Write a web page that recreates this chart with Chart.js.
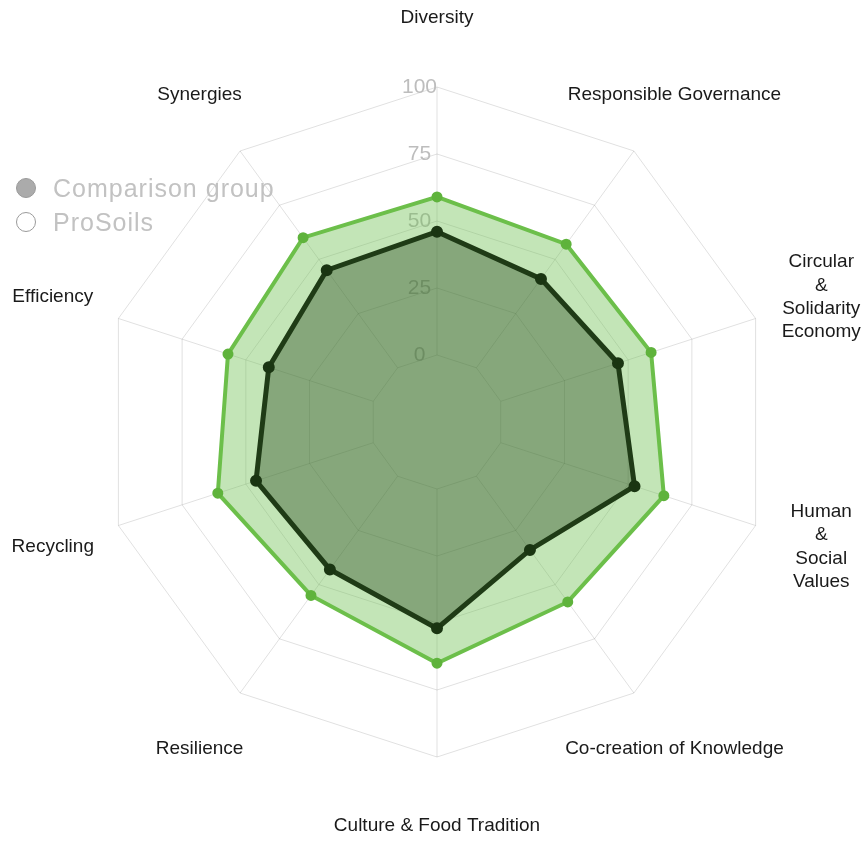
<!DOCTYPE html>
<html>
<head>
<meta charset="utf-8">
<script src="https://cdn.jsdelivr.net/npm/chart.js@4.4.1/dist/chart.umd.min.js"></script>
<style>
  body { margin: 0; background: #fff; }
  #wrap { position: relative; width: 863px; height: 842px; }
  #legend { position: absolute; left: 16px; top: 171px; font-family: "Liberation Sans", Arial, sans-serif;
            font-size: 25px; color: #c2c2c2; letter-spacing: 1px; line-height: 34px; }
  #legend div { display: flex; align-items: center; }
  #legend span.dot { display: inline-block; width: 20px; height: 20px; border-radius: 50%;
                     margin-right: 17px; box-sizing: border-box; }
</style>
</head>
<body>
<div id="wrap">
  <canvas id="radar" width="863" height="842"></canvas>
  <div id="legend"></div>
</div>
<script>
// axis names (arrays = multi-line labels)
const categories = [
  'Diversity',
  'Responsible Governance',
  ['Circular', '&', 'Solidarity', 'Economy'],
  ['Human', '&', 'Social', 'Values'],
  'Co-creation of Knowledge',
  'Culture & Food Tradition',
  'Resilience',
  'Recycling',
  'Efficiency',
  'Synergies'
];

const comparisonValues = [46, 41, 46, 52.5, 34, 52, 43, 46, 41, 45];
const proSoilsValues = [59, 57, 59, 64, 58, 65, 55, 61, 57, 60];

const scaleMin = -25;
const scaleMax = 100;
const scaleStep = 25;

const seriesNames = ['Comparison group', 'ProSoils'];

const gridColor = 'rgba(0,0,0,0.12)';

// point labels are drawn centered on each spoke, a fixed distance past the outer ring
const axisLabels = {
  id: 'axisLabels',
  afterDraw(chart) {
    const r = chart.scales.r;
    const ctx = chart.ctx;
    ctx.save();
    ctx.font = '19px "Liberation Sans", Arial, sans-serif';
    ctx.fillStyle = '#1a1a1a';
    ctx.textAlign = 'center';
    ctx.textBaseline = 'middle';
    const lineH = 23.3;
    chart.data.labels.forEach((lab, i) => {
      const p = r.getPointPosition(i, r.drawingArea + 69);
      const lines = Array.isArray(lab) ? lab : [lab];
      const y0 = p.y - (lines.length - 1) * lineH / 2;
      lines.forEach((t, k) => ctx.fillText(t, p.x, y0 + k * lineH));
    });
    ctx.restore();
  }
};

new Chart(document.getElementById('radar'), {
  type: 'radar',
  data: {
    labels: categories,
    datasets: [
      {
        label: seriesNames[0],
        data: comparisonValues,
        borderColor: '#1f3b16',
        backgroundColor: 'rgba(30,60,22,0.37)',
        pointBackgroundColor: '#1a3512',
        pointBorderColor: '#1a3512',
        borderWidth: 5,
        pointRadius: 3.5,
        fill: 'start'
      },
      {
        label: seriesNames[1],
        data: proSoilsValues,
        borderColor: '#6cbf4a',
        backgroundColor: 'rgba(106,190,75,0.4)',
        pointBackgroundColor: '#5fb33c',
        pointBorderColor: '#5fb33c',
        borderWidth: 4,
        pointRadius: 3.5,
        fill: 'start'
      }
    ]
  },
  options: {
    responsive: false,
    animation: false,
    layout: { padding: { left: 92, top: 77, right: 80, bottom: 74 } },
    plugins: {
      legend: { display: false },
      tooltip: { enabled: false }
    },
    elements: { line: { tension: 0 } },
    scales: {
      r: {
        min: scaleMin,
        max: scaleMax,
        grid: { color: gridColor, lineWidth: 1 },
        // spokes start at the 0 ring, not at the centre (ring 0 sits 67px out)
        angleLines: { color: gridColor, lineWidth: 1, borderDash: [0, 67, 268, 0] },
        pointLabels: { display: false },
        ticks: {
          stepSize: scaleStep,
          showLabelBackdrop: false,
          backdropPadding: 0,
          color: '#bdbdbd',
          font: { family: '"Liberation Sans", Arial, sans-serif', size: 21 },
          // trailing spaces push the number left of the spoke, as in the original
          callback: v => (v < 0 ? '' : v + '      ')
        }
      }
    }
  },
  plugins: [axisLabels]
});

// legend (grey markers, as in the source figure)
const legendEl = document.getElementById('legend');
const markerStyles = [
  'background:#ababab;border:1px solid #9a9a9a;',
  'background:#fff;border:1.5px solid #9a9a9a;'
];
seriesNames.forEach((name, i) => {
  const row = document.createElement('div');
  row.innerHTML = '<span class="dot" style="' + markerStyles[i] + '"></span>' + name;
  legendEl.appendChild(row);
});
</script>
</body>
</html>
